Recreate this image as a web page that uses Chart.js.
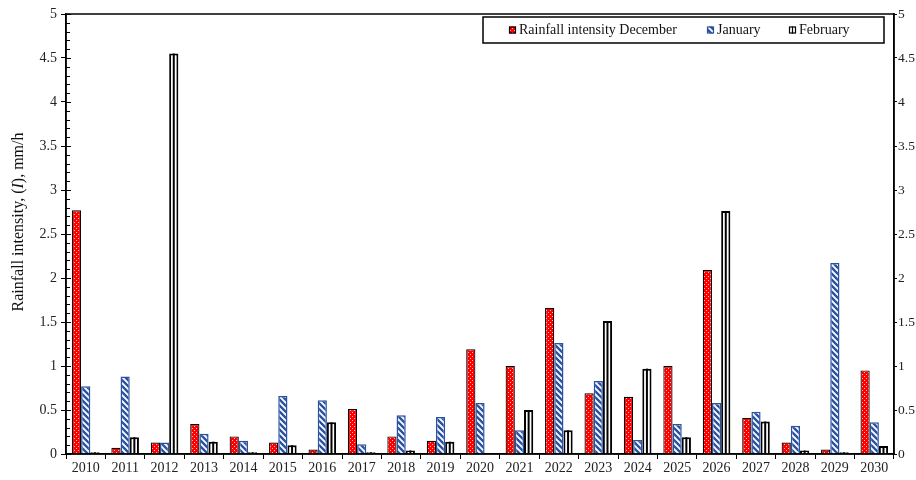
<!DOCTYPE html>
<html>
<head>
<meta charset="utf-8">
<script src="https://cdn.jsdelivr.net/npm/chart.js@4.4.1/dist/chart.umd.min.js"></script>
<style>
  html, body { margin: 0; padding: 0; background: #fff; }
  #wrap { width: 916px; height: 480px; position: relative; }
</style>
</head>
<body>
<div id="wrap"><canvas id="c" width="916" height="480"></canvas></div>
<script>
// Years on the category axis
const years = ['2010','2011','2012','2013','2014','2015','2016','2017','2018','2019','2020',
               '2021','2022','2023','2024','2025','2026','2027','2028','2029','2030'];

// Rainfall intensity (mm/h) per month
const december = [2.77, 0.07, 0.13, 0.34, 0.20, 0.13, 0.05, 0.51, 0.20, 0.15, 1.19,
                  1.00, 1.66, 0.69, 0.65, 1.00, 2.09, 0.41, 0.13, 0.05, 0.95];
const january  = [0.77, 0.88, 0.13, 0.23, 0.15, 0.66, 0.61, 0.11, 0.44, 0.42, 0.58,
                  0.27, 1.26, 0.83, 0.16, 0.34, 0.58, 0.48, 0.32, 2.17, 0.36];
const february = [0.02, 0.19, 4.55, 0.14, 0.02, 0.10, 0.36, 0.02, 0.04, 0.14, 0.01,
                  0.50, 0.27, 1.51, 0.97, 0.19, 2.76, 0.37, 0.04, 0.02, 0.09];

// Value axis ticks
const yTicks = [0, 0.5, 1, 1.5, 2, 2.5, 3, 3.5, 4, 4.5, 5];

const seriesLabels = ['Rainfall intensity December', 'January', 'February'];

const SERIF = '"Liberation Serif", "Times New Roman", serif';

// Fill patterns
function dotPattern() {
  const c = document.createElement('canvas');
  c.width = 4; c.height = 4;
  const g = c.getContext('2d');
  g.fillStyle = '#ff0000';
  g.fillRect(0, 0, 4, 4);
  g.fillStyle = '#ffc0c0';
  g.fillRect(0, 0, 1, 1);
  g.fillRect(2, 2, 1, 1);
  return g.createPattern(c, 'repeat');
}
function stripePattern() {
  const s = 6;
  const c = document.createElement('canvas');
  c.width = s; c.height = s;
  const g = c.getContext('2d');
  g.fillStyle = '#ffffff';
  g.fillRect(0, 0, s, s);
  g.strokeStyle = '#2a52a0';
  g.lineWidth = 2.4;
  g.beginPath();
  for (const k of [-s, 0, s]) {
    g.moveTo(k - 1, -1);
    g.lineTo(k + s + 1, s + 1);
  }
  g.stroke();
  return g.createPattern(c, 'repeat');
}

const ctx = document.getElementById('c').getContext('2d');

const fmt = v => String(v);

// Frame, inner minor ticks, centre line of the February bars, legend and y title
const decorations = {
  id: 'decorations',
  afterDatasetsDraw(chart) {
    const g = chart.ctx;
    // centre line inside each February bar
    const meta = chart.getDatasetMeta(2);
    g.save();
    g.strokeStyle = '#000';
    g.lineWidth = 2;
    meta.data.forEach(bar => {
      const p = bar.getProps(['x', 'y', 'base'], true);
      g.beginPath();
      g.moveTo(p.x, p.y);
      g.lineTo(p.x, p.base);
      g.stroke();
    });
    g.restore();
  },
  afterDraw(chart) {
    const g = chart.ctx;
    const a = chart.chartArea;
    const y = chart.scales.y;
    g.save();
    // plot frame
    g.strokeStyle = '#000';
    g.lineWidth = 1.5;
    g.strokeRect(a.left, a.top, a.right - a.left, a.bottom - a.top);

    // inward ticks on the left axis
    g.lineWidth = 1;
    for (let i = 0; i <= 50; i++) {
      const py = Math.round(y.getPixelForValue(i / 10)) + 0.5;
      const len = (i % 5 === 0) ? 5 : 4;
      g.beginPath();
      g.moveTo(a.left, py);
      g.lineTo(a.left + len, py);
      g.stroke();
    }

    // legend
    const lx = 483, ly = 17, lw = 401, lh = 26;
    g.fillStyle = '#fff';
    g.fillRect(lx, ly, lw, lh);
    g.lineWidth = 1.5;
    g.strokeStyle = '#000';
    g.strokeRect(lx, ly, lw, lh);
    g.font = '14px ' + SERIF;
    g.textBaseline = 'middle';
    const cy = ly + lh / 2;
    const items = [
      { x: 509, ds: 0 },
      { x: 707, ds: 1 },
      { x: 789, ds: 2 }
    ];
    items.forEach(it => {
      const ds = chart.data.datasets[it.ds];
      g.fillStyle = ds.backgroundColor;
      g.fillRect(it.x, cy - 3.5, 7, 7);
      g.lineWidth = 1.2;
      g.strokeStyle = ds.borderColor;
      g.strokeRect(it.x + 0.5, cy - 3, 6, 6);
      if (it.ds === 2) {
        g.beginPath();
        g.moveTo(it.x + 3.5, cy - 3.5);
        g.lineTo(it.x + 3.5, cy + 3.5);
        g.stroke();
      }
      g.fillStyle = '#111';
      g.textAlign = 'left';
      g.fillText(ds.label, it.x + 10, cy + 0.5);
    });

    // rotated y-axis title with italic symbol
    const parts = [
      { t: 'Rainfall intensity, (', f: '16px ' + SERIF },
      { t: 'I', f: 'italic 16px ' + SERIF },
      { t: '), mm/h', f: '16px ' + SERIF }
    ];
    let total = 0;
    parts.forEach(p => { g.font = p.f; p.w = g.measureText(p.t).width; total += p.w; });
    g.translate(19, 222);
    g.rotate(-Math.PI / 2);
    g.fillStyle = '#111';
    g.textBaseline = 'middle';
    g.textAlign = 'left';
    let x0 = -total / 2;
    parts.forEach(p => { g.font = p.f; g.fillText(p.t, x0, 0); x0 += p.w; });
    g.restore();
  }
};

const tickFont = { family: SERIF, size: 14 };

new Chart(ctx, {
  type: 'bar',
  data: {
    labels: years,
    datasets: [
      { label: seriesLabels[0], data: december, backgroundColor: dotPattern(),
        borderColor: '#000', borderWidth: 1.2 },
      { label: seriesLabels[1], data: january, backgroundColor: stripePattern(),
        borderColor: '#2a52a0', borderWidth: 1.5 },
      { label: seriesLabels[2], data: february, backgroundColor: '#ffffff',
        borderColor: '#000', borderWidth: 2 }
    ]
  },
  options: {
    responsive: false,
    animation: false,
    devicePixelRatio: 1,
    layout: { padding: { top: 14, left: 0, right: 0, bottom: 0 } },
    datasets: { bar: { categoryPercentage: 0.7, barPercentage: 1.0 } },
    plugins: {
      legend: { display: false },
      tooltip: { enabled: false },
      title: { display: false }
    },
    scales: {
      x: {
        offset: true,
        grid: { offset: true, drawOnChartArea: false, tickLength: 5, color: '#000', lineWidth: 1 },
        border: { display: true, color: '#000', width: 1.5 },
        ticks: { font: tickFont, color: '#222', padding: 1, maxRotation: 0, autoSkip: false },
        afterFit(s) { s.height = 26; }
      },
      y: {
        min: 0, max: 5,
        afterBuildTicks(s) { s.ticks = yTicks.map(v => ({ value: v })); },
        grid: { drawOnChartArea: false, tickLength: 5, color: '#000', lineWidth: 1 },
        border: { display: true, color: '#000', width: 1.5 },
        ticks: { font: tickFont, color: '#222', padding: 4, callback: fmt },
        afterFit(s) { s.width = 66; }
      },
      y2: {
        position: 'right',
        min: 0, max: 5,
        afterBuildTicks(s) { s.ticks = yTicks.map(v => ({ value: v })); },
        grid: { drawOnChartArea: false, tickLength: 3, color: '#000', lineWidth: 1 },
        border: { display: true, color: '#000', width: 1.5 },
        ticks: { font: { family: SERIF, size: 13.5 }, color: '#222', padding: 1, callback: fmt },
        afterFit(s) { s.width = 22; }
      }
    }
  },
  plugins: [decorations]
});
</script>
</body>
</html>
